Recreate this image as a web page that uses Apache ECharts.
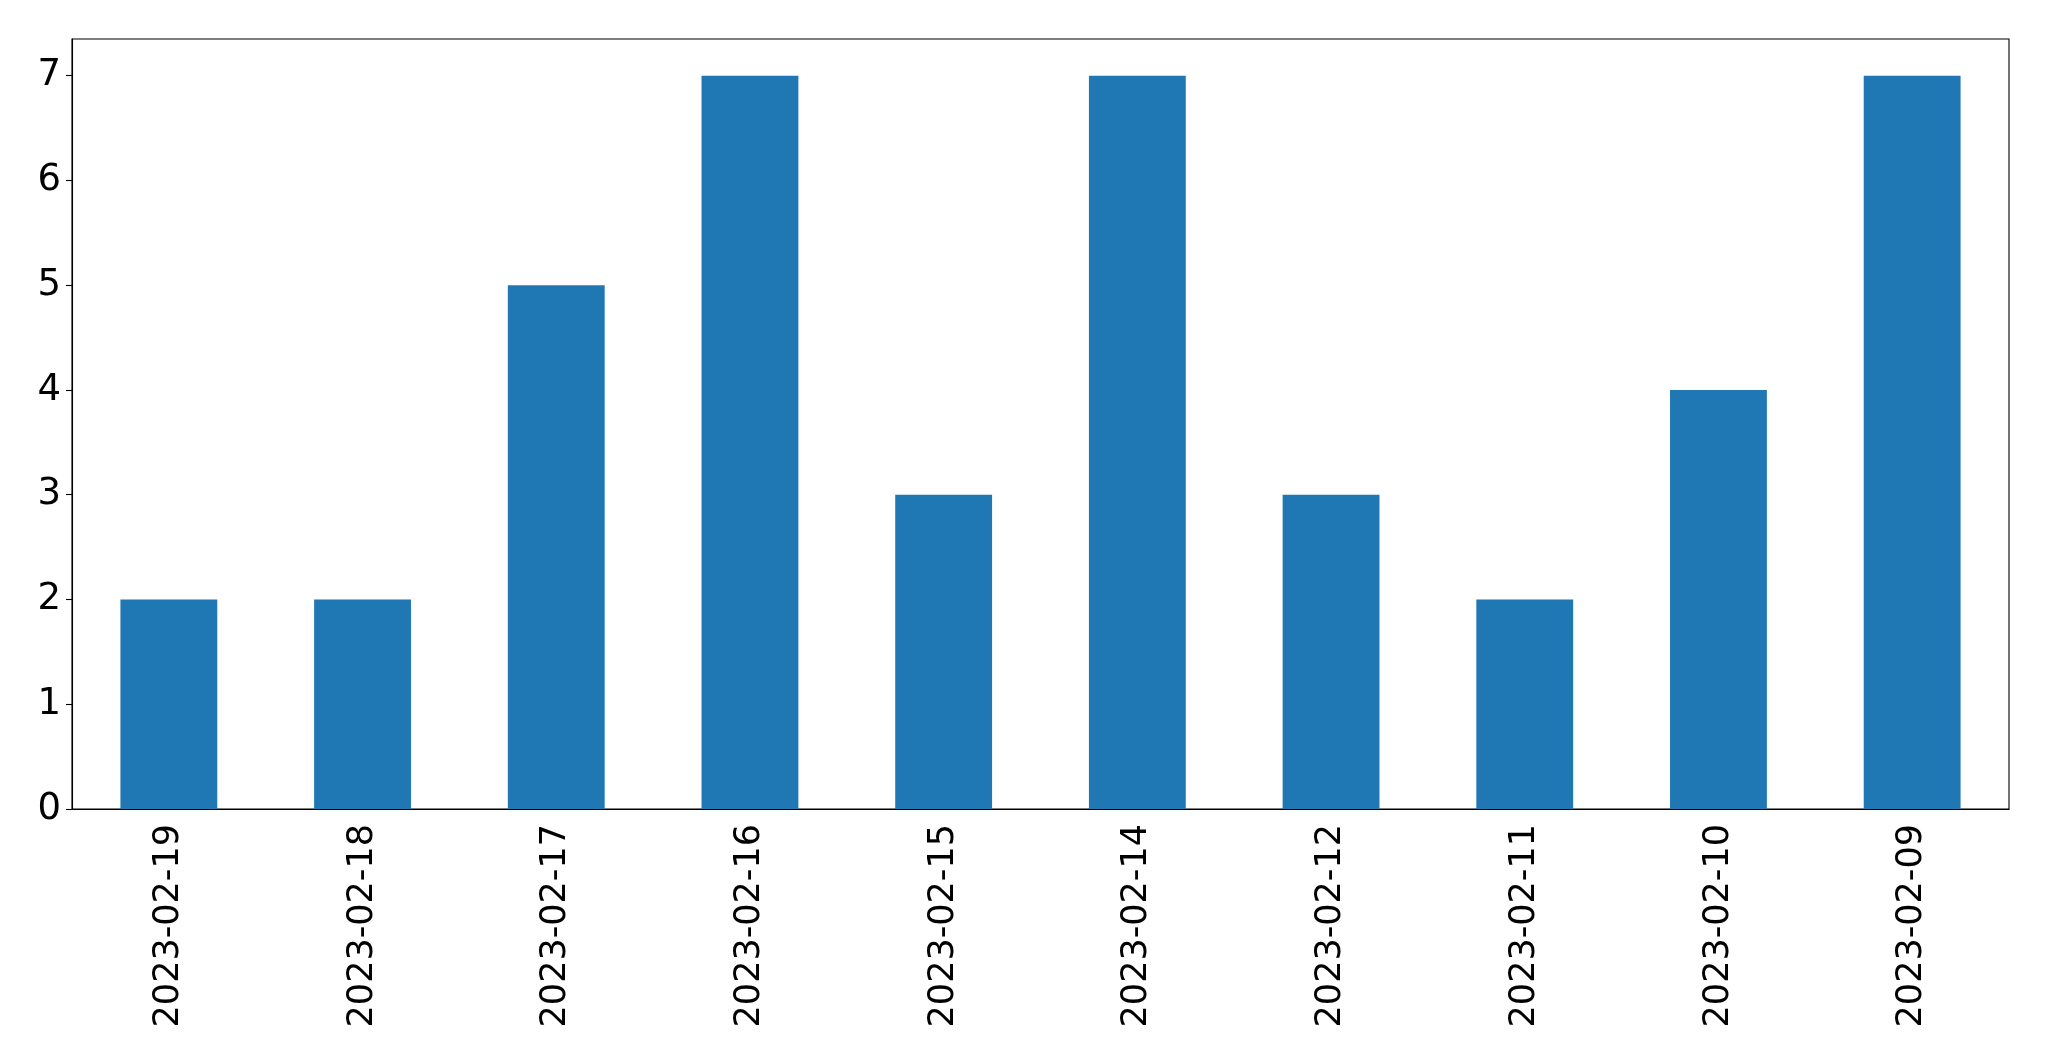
<!DOCTYPE html>
<html>
<head>
<meta charset="utf-8">
<script src="https://cdn.jsdelivr.net/npm/echarts@6/dist/echarts.min.js"></script>
<style>html,body{margin:0;padding:0;background:#fff;}#c{width:2049px;height:1061px;}</style>
</head>
<body>
<div id="c"></div>
<script>
const categories = ['2023-02-19','2023-02-18','2023-02-17','2023-02-16','2023-02-15','2023-02-14','2023-02-12','2023-02-11','2023-02-10','2023-02-09'];
const values = [2,2,5,7,3,7,3,2,4,7];
const yTicks = [0,1,2,3,4,5,6,7];

const chart = echarts.init(document.getElementById('c'), null, {renderer:'canvas'});
chart.setOption({
  animation:false,
  backgroundColor:'#fff',
  grid:{left:72,top:39,right:40,bottom:252,show:true,borderColor:'#000',borderWidth:1.1,backgroundColor:'transparent'},
  xAxis:{
    type:'category',
    data:categories,
    boundaryGap:true,
    axisLine:{lineStyle:{color:'#000',width:1.1}},
    axisTick:{alignWithLabel:true,length:6,lineStyle:{color:'#000',width:1.1}},
    axisLabel:{rotate:90,margin:15,color:'#000',fontSize:35,fontFamily:'DejaVu Sans',interval:0},
    splitLine:{show:false}
  },
  yAxis:{
    type:'value',
    min:0,max:7.35,
    axisLine:{show:true,lineStyle:{color:'#000',width:1.1}},
    axisTick:{show:true,length:6,customValues:yTicks,lineStyle:{color:'#000',width:1.1}},
    axisLabel:{customValues:yTicks,margin:11,color:'#000',fontSize:37,fontFamily:'DejaVu Sans'},
    splitLine:{show:false}
  },
  series:[{
    type:'bar',
    data:values,
    barWidth:'50%',
    itemStyle:{color:'#1f77b4'}
  }]
});
</script>
</body>
</html>
